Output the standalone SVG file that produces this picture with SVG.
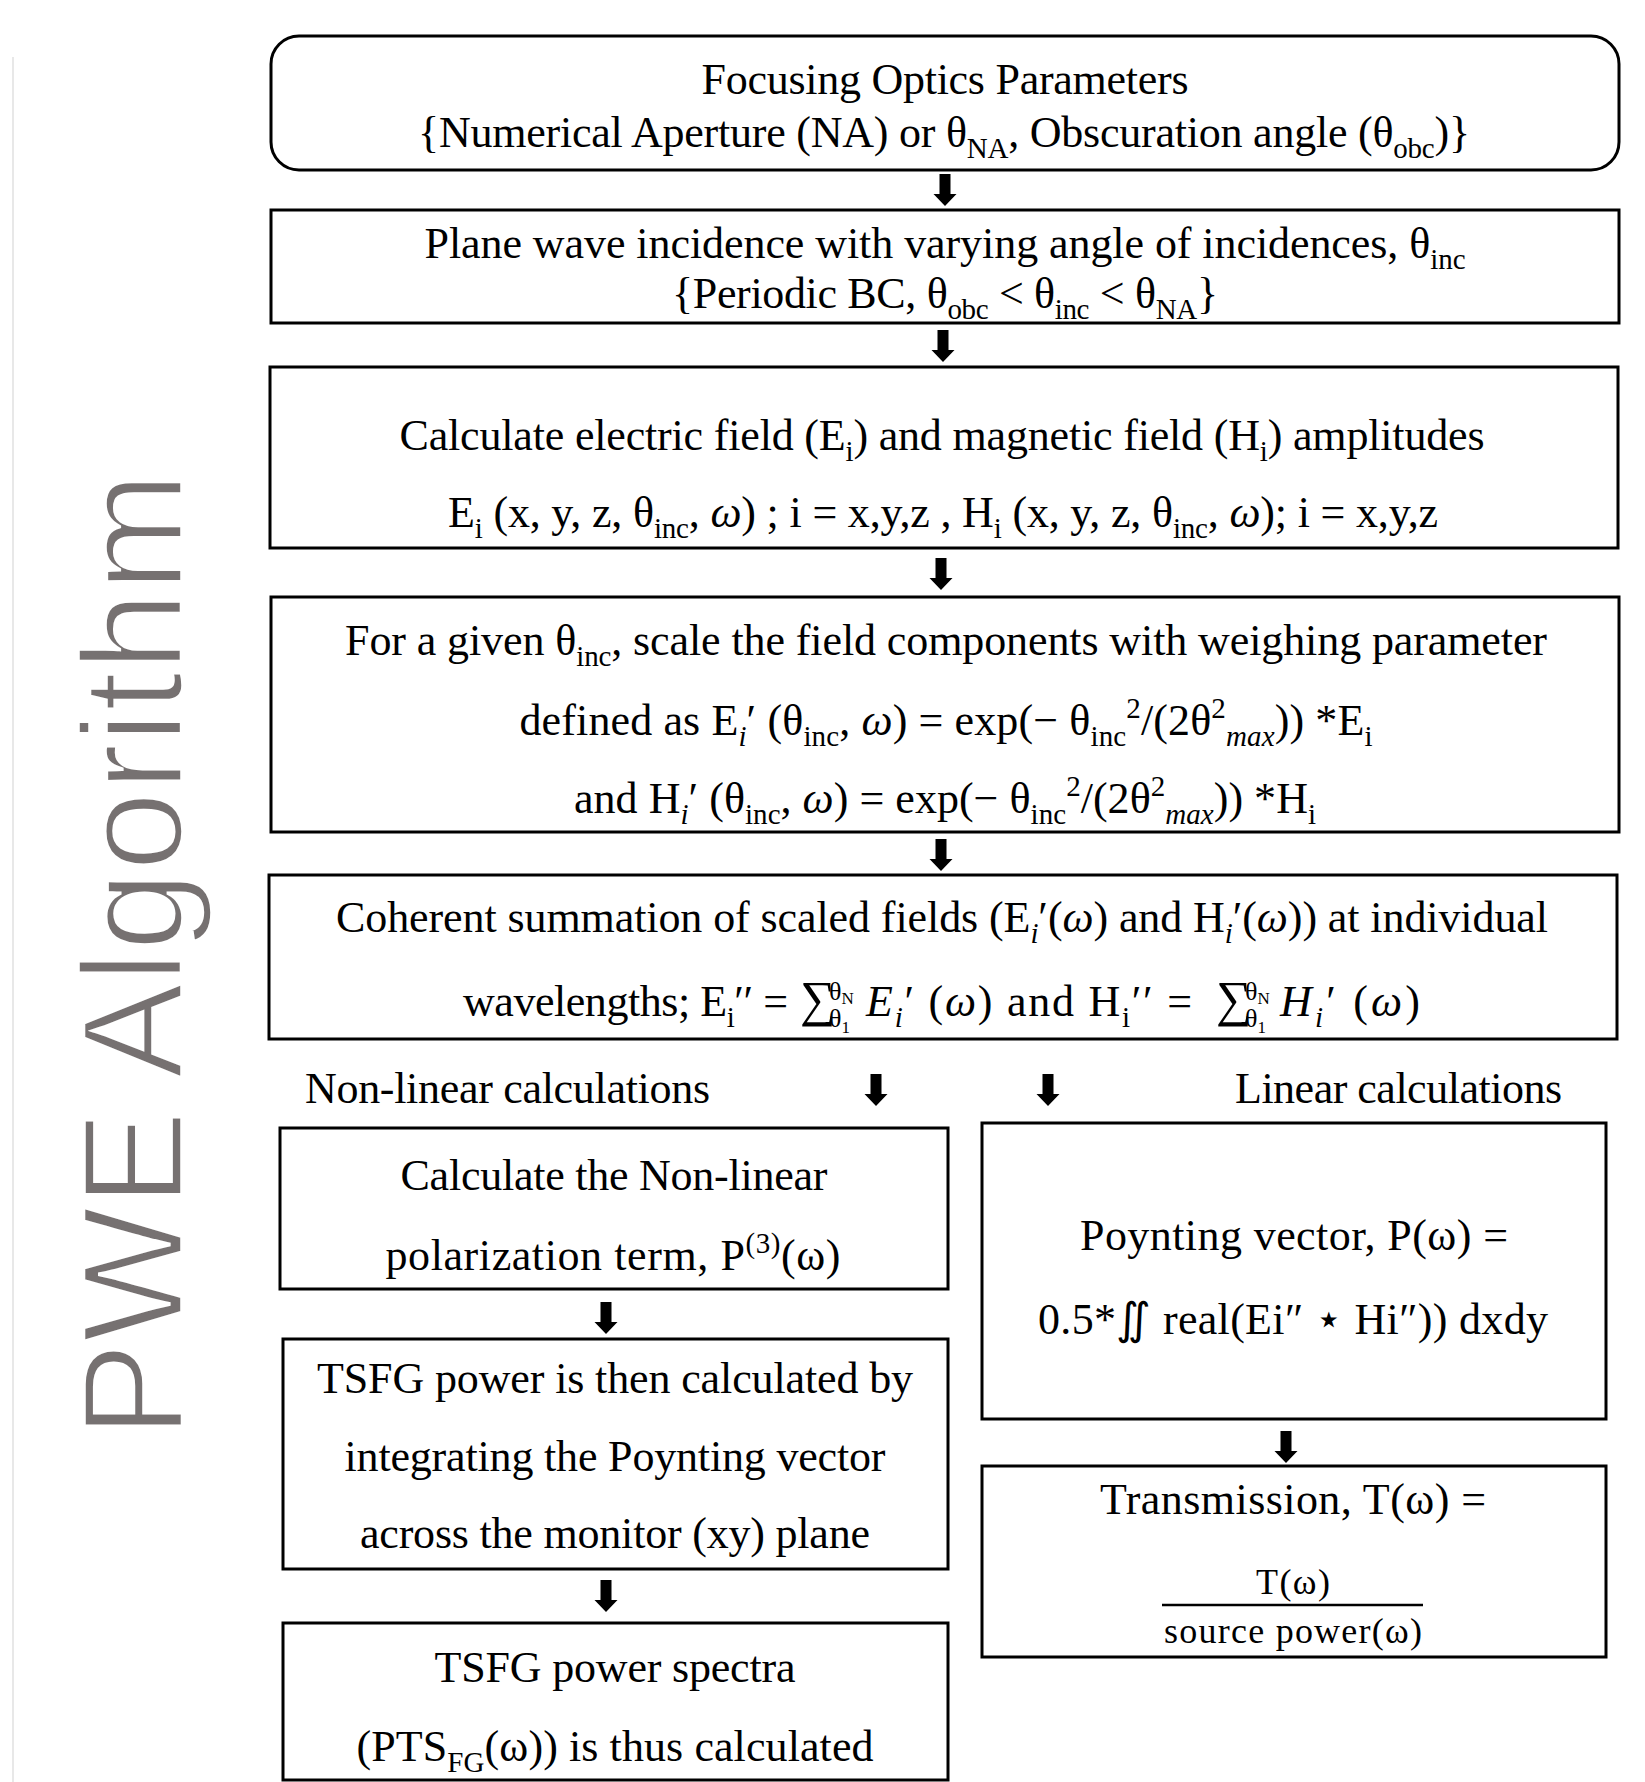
<svg xmlns="http://www.w3.org/2000/svg" width="1645" height="1782" viewBox="0 0 1645 1782">
<style>
.box{fill:#fff;stroke:#000;stroke-width:3}
.t{font-family:"Liberation Serif","Times New Roman",serif;font-size:44px;fill:#000}
.c{text-anchor:middle}
.sb{font-size:29px;baseline-shift:-11px}
.sp{font-size:29px;baseline-shift:17px}
.it{font-style:italic}
.ls{font-size:26px;baseline-shift:16px}
.lsn{font-size:17px;baseline-shift:12px}
.lb{font-size:26px;baseline-shift:-11px}
.lbn{font-size:17px;baseline-shift:-17px}
.sum{font-size:50px}
.fr{font-family:"Liberation Serif","Times New Roman",serif;font-size:36px;fill:#000;text-anchor:middle}
.arr{fill:#000}
</style>
<defs>
<path id="arrow" d="M-5.5,0 H5.5 V20 H11.5 L0,32 L-11.5,20 H-5.5 Z"/>
</defs>
<rect width="1645" height="1782" fill="#fff"/>
<line x1="13" y1="57" x2="13" y2="1782" stroke="#e8e8e8" stroke-width="2"/>
<text transform="translate(182,1438) rotate(-90)" font-family="Liberation Sans, Arial, sans-serif" font-size="142" fill="#767171" stroke="#fff" stroke-width="3.5" textLength="966" lengthAdjust="spacingAndGlyphs">PWE Algorithm</text>

<g id="connectors" class="arr">
<use href="#arrow" x="945" y="174"/>
<use href="#arrow" x="943" y="330"/>
<use href="#arrow" x="941" y="558"/>
<use href="#arrow" x="941" y="839"/>
<use href="#arrow" x="876" y="1074"/>
<use href="#arrow" x="1048" y="1074"/>
<use href="#arrow" x="606" y="1302"/>
<use href="#arrow" x="606" y="1580"/>
<use href="#arrow" x="1286" y="1431"/>
</g>

<g id="n1">
<rect class="box" x="271" y="36" width="1348" height="134" rx="28"/>
<text class="t c" x="945" y="94" textLength="487">Focusing Optics Parameters</text>
<text class="t c" x="944" y="147" textLength="1052">{Numerical Aperture (NA) or θ<tspan class="sb">NA</tspan>, Obscuration angle (θ<tspan class="sb">obc</tspan>)}</text>
</g>

<g id="n2">
<rect class="box" x="271" y="210" width="1348" height="113"/>
<text class="t c" x="945" y="258" textLength="1041">Plane wave incidence with varying angle of incidences, θ<tspan class="sb">inc</tspan></text>
<text class="t c" x="945" y="308" textLength="546">{Periodic BC, θ<tspan class="sb">obc</tspan> &lt; θ<tspan class="sb">inc</tspan> &lt; θ<tspan class="sb">NA</tspan>}</text>
</g>

<g id="n3">
<rect class="box" x="270" y="367" width="1348" height="181"/>
<text class="t c" x="942" y="450" textLength="1085">Calculate electric field (E<tspan class="sb">i</tspan>) and magnetic field (H<tspan class="sb">i</tspan>) amplitudes</text>
<text class="t c" x="943" y="527" textLength="990">E<tspan class="sb">i</tspan> (x, y, z, θ<tspan class="sb">inc</tspan>, <tspan class="it">ω</tspan>) ; i = x,y,z , H<tspan class="sb">i</tspan> (x, y, z, θ<tspan class="sb">inc</tspan>, <tspan class="it">ω</tspan>); i = x,y,z</text>
</g>

<g id="n4">
<rect class="box" x="271" y="597" width="1348" height="235"/>
<text class="t c" x="946" y="655" textLength="1202">For a given θ<tspan class="sb">inc</tspan>, scale the field components with weighing parameter</text>
<text class="t c" x="946" y="735" textLength="853">defined as E<tspan class="sb it">i</tspan>′ (θ<tspan class="sb">inc</tspan>, <tspan class="it">ω</tspan>) = exp(− θ<tspan class="sb">inc</tspan><tspan class="sp">2</tspan>/(2θ<tspan class="sp">2</tspan><tspan class="sb it">max</tspan>)) *E<tspan class="sb">i</tspan></text>
<text class="t c" x="945" y="813" textLength="742">and H<tspan class="sb it">i</tspan>′ (θ<tspan class="sb">inc</tspan>, <tspan class="it">ω</tspan>) = exp(− θ<tspan class="sb">inc</tspan><tspan class="sp">2</tspan>/(2θ<tspan class="sp">2</tspan><tspan class="sb it">max</tspan>)) *H<tspan class="sb">i</tspan></text>
</g>

<g id="n5">
<rect class="box" x="269" y="875" width="1348" height="164"/>
<text class="t c" x="942" y="932" textLength="1212">Coherent summation of scaled fields (E<tspan class="sb it">i</tspan>′(<tspan class="it">ω</tspan>) and H<tspan class="sb it">i</tspan>′(<tspan class="it">ω</tspan>)) at individual</text>
<text class="t" x="463" y="1016" textLength="325">wavelengths; E<tspan class="sb">i</tspan>′′ =</text>
<text class="t" y="1016"><tspan x="800" class="sum">∑</tspan><tspan x="829" class="ls">θ</tspan><tspan class="lsn">N</tspan><tspan x="829" class="lb">θ</tspan><tspan class="lbn">1</tspan></text>
<text class="t" x="866" y="1016" textLength="326"><tspan class="it">E</tspan><tspan class="sb it">i</tspan>′ (<tspan class="it">ω</tspan>) and H<tspan class="sb">i</tspan>′′ =</text>
<text class="t" y="1016"><tspan x="1216" class="sum">∑</tspan><tspan x="1245" class="ls">θ</tspan><tspan class="lsn">N</tspan><tspan x="1245" class="lb">θ</tspan><tspan class="lbn">1</tspan></text>
<text class="t" x="1280" y="1016" textLength="140"><tspan class="it">H</tspan><tspan class="sb it">i</tspan>′ (<tspan class="it">ω</tspan>)</text>
</g>

<g id="lbl-nonlinear">
<text class="t" x="305" y="1103" textLength="405">Non-linear calculations</text>
</g>
<g id="lbl-linear">
<text class="t" x="1235" y="1103" textLength="327">Linear calculations</text>
</g>

<g id="n6">
<rect class="box" x="280" y="1128" width="668" height="161"/>
<text class="t c" x="614" y="1190" textLength="427">Calculate the Non-linear</text>
<text class="t c" x="613" y="1270" textLength="455">polarization term, P<tspan class="sp">(3)</tspan>(ω)</text>
</g>

<g id="n7">
<rect class="box" x="283" y="1339" width="665" height="230"/>
<text class="t c" x="615" y="1393" textLength="596">TSFG power is then calculated by</text>
<text class="t c" x="615" y="1471" textLength="541">integrating the Poynting vector</text>
<text class="t c" x="615" y="1548" textLength="510">across the monitor (xy) plane</text>
</g>

<g id="n8">
<rect class="box" x="283" y="1623" width="665" height="157"/>
<text class="t c" x="615" y="1682" textLength="361">TSFG power spectra</text>
<text class="t c" x="615" y="1761" textLength="517">(PTS<tspan class="sb">FG</tspan>(ω)) is thus calculated</text>
</g>

<g id="n9">
<rect class="box" x="982" y="1123" width="624" height="296"/>
<text class="t c" x="1294" y="1250" textLength="428">Poynting vector, P(ω) =</text>
<text class="t c" x="1293" y="1334" textLength="510">0.5*∬ real(Ei″ ⋆ Hi″)) dxdy</text>
</g>

<g id="n10">
<rect class="box" x="982" y="1466" width="624" height="191"/>
<text class="t c" x="1293" y="1514" textLength="386">Transmission, T(ω) =</text>
<text class="fr" x="1293" y="1594" textLength="74">T(ω)</text>
<line x1="1162" y1="1605" x2="1423" y2="1605" stroke="#000" stroke-width="2.5"/>
<text class="fr" x="1293" y="1643" textLength="258">source power(ω)</text>
</g>
</svg>
